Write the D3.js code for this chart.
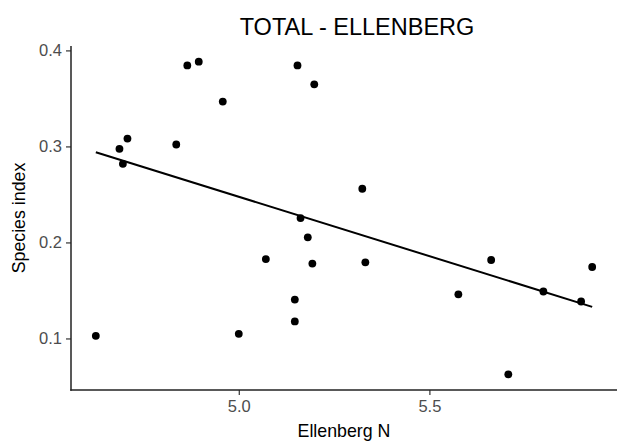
<!DOCTYPE html>
<html>
<head>
<meta charset="utf-8">
<script src="https://cdn.jsdelivr.net/npm/d3@7"></script>
<style>
  html, body { margin: 0; padding: 0; background: #fff; }
  svg { display: block; }
</style>
</head>
<body>
<svg id="chart" width="617" height="442"></svg>
<script>
// Ellenberg N indicator value per site
const ellenbergN = [
  4.625, 4.687, 4.696, 4.708, 4.836, 4.865, 4.895, 4.958, 5.000, 5.071,
  5.154, 5.198, 5.324, 5.162, 5.181, 5.193, 5.332, 5.147, 5.147, 5.576,
  5.662, 5.707, 5.799, 5.898, 5.927
];
// Species index per site
const speciesIndex = [
  0.1027, 0.2975, 0.2819, 0.3082, 0.3020, 0.3844, 0.3883, 0.3467, 0.1048, 0.1827,
  0.3844, 0.3647, 0.2559, 0.2254, 0.2053, 0.1780, 0.1793, 0.1405, 0.1177, 0.1460,
  0.1817, 0.0626, 0.1489, 0.1385, 0.1744
];
const xTicks = [5.0, 5.5];
const yTicks = [0.1, 0.2, 0.3, 0.4];
const titleText = "TOTAL - ELLENBERG";
const xTitle = "Ellenberg N";
const yTitle = "Species index";

const points = ellenbergN.map((x, i) => ({ x, y: speciesIndex[i] }));

const svg = d3.select("#chart");
const W = 617, H = 442;
const margin = { top: 46, right: 0, bottom: 52, left: 71 };

// Scales with a 5% padding on each side of the data range
function padded(ext) {
  const d = (ext[1] - ext[0]) * 0.05;
  return [ext[0] - d, ext[1] + d];
}
const x = d3.scaleLinear()
  .domain(padded(d3.extent(ellenbergN)))
  .range([margin.left, W - margin.right]);
const y = d3.scaleLinear()
  .domain(padded(d3.extent(speciesIndex)))
  .range([H - margin.bottom, margin.top]);

// Ordinary least squares fit
const mx = d3.mean(ellenbergN), my = d3.mean(speciesIndex);
let sxy = 0, sxx = 0;
points.forEach(p => { sxy += (p.x - mx) * (p.y - my); sxx += (p.x - mx) ** 2; });
const slope = sxy / sxx, intercept = my - slope * mx;
const [x0, x1] = d3.extent(ellenbergN);
const fit = [x0, x1].map(v => ({ x: v, y: intercept + slope * v }));

// Axes
const font = "'Liberation Sans', Arial, sans-serif";
const xAxis = svg.append("g")
  .attr("transform", `translate(0,${H - margin.bottom})`)
  .call(d3.axisBottom(x).tickValues(xTicks).tickFormat(d3.format(".1f")).tickSizeOuter(0).tickSize(5).tickPadding(5));
const yAxis = svg.append("g")
  .attr("transform", `translate(${margin.left},0)`)
  .call(d3.axisLeft(y).tickValues(yTicks).tickFormat(d3.format(".1f")).tickSizeOuter(0).tickSize(5).tickPadding(4));

[xAxis, yAxis].forEach(g => {
  g.select(".domain").remove();
  g.selectAll(".tick line").attr("stroke", "#333").attr("stroke-width", 1.2);
  g.selectAll(".tick text")
    .attr("fill", "#4d4d4d")
    .style("font-family", font)
    .style("font-size", "16.5px");
});

// Axis lines
const [ry0, ry1] = y.range();
const [rx0, rx1] = x.range();
svg.append("line")
  .attr("x1", rx0).attr("x2", rx0)
  .attr("y1", ry1).attr("y2", ry0 + 0.75)
  .attr("stroke", "#222").attr("stroke-width", 1.5);
svg.append("line")
  .attr("x1", rx0 - 0.75).attr("x2", rx1)
  .attr("y1", ry0).attr("y2", ry0)
  .attr("stroke", "#222").attr("stroke-width", 1.5);

// Regression line
svg.append("path")
  .datum(fit)
  .attr("fill", "none")
  .attr("stroke", "#000")
  .attr("stroke-width", 2)
  .attr("d", d3.line().x(d => x(d.x)).y(d => y(d.y)));

// Points
svg.append("g")
  .selectAll("circle")
  .data(points)
  .join("circle")
  .attr("cx", d => x(d.x))
  .attr("cy", d => y(d.y))
  .attr("r", 3.9)
  .attr("fill", "#000");

// Titles
svg.append("text")
  .attr("x", 357)
  .attr("y", 35)
  .attr("text-anchor", "middle")
  .style("font-family", font)
  .style("font-size", "23.5px")
  .attr("fill", "#000")
  .text(titleText);

svg.append("text")
  .attr("x", (margin.left + W - margin.right) / 2)
  .attr("y", 437)
  .attr("text-anchor", "middle")
  .style("font-family", font)
  .style("font-size", "17.8px")
  .attr("fill", "#000")
  .text(xTitle);

svg.append("text")
  .attr("transform", `translate(25,${(margin.top + H - margin.bottom) / 2}) rotate(-90)`)
  .attr("text-anchor", "middle")
  .style("font-family", font)
  .style("font-size", "17.8px")
  .attr("fill", "#000")
  .text(yTitle);
</script>
</body>
</html>
